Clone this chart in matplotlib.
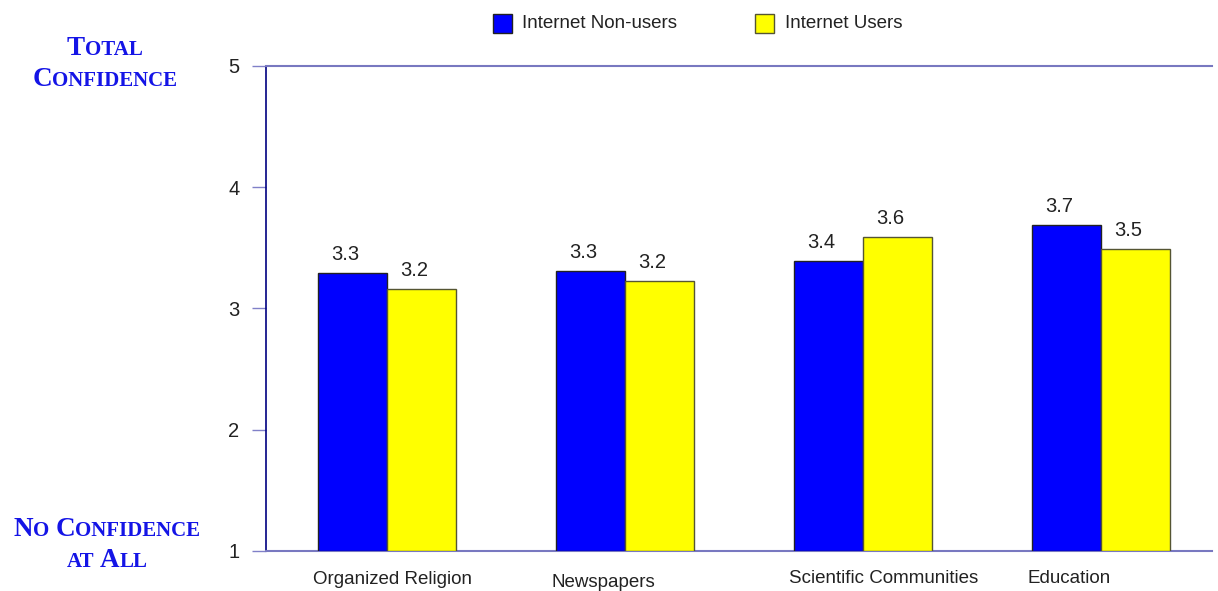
import matplotlib
matplotlib.use("Agg")
import matplotlib.pyplot as plt
from matplotlib.patches import Rectangle

# ---- data ----
categories = ["Organized Religion", "Newspapers", "Scientific Communities", "Education"]
non_users = [3.29, 3.31, 3.39, 3.69]
users = [3.16, 3.23, 3.59, 3.49]
non_users_labels = ["3.3", "3.3", "3.4", "3.7"]
users_labels = ["3.2", "3.2", "3.6", "3.5"]
series_names = ["Internet Non-users", "Internet Users"]
y_ticks = [1, 2, 3, 4, 5]

SANS = ["Liberation Sans", "DejaVu Sans"]
SERIF = ["Liberation Serif", "DejaVu Serif"]
BLUE = "#0000FF"
YELLOW = "#FFFF00"
TXTBLUE = "#1414E6"
FS = 13.5
FSN = 14.5

W, H = 1218, 591
fig = plt.figure(figsize=(W / 100, H / 100), dpi=100)
ax = fig.add_axes([266 / W, 1 - 551 / H, (1212 - 266) / W, (551 - 66) / H])

bw = 0.29
xs = list(range(len(categories)))
ax.bar([x - bw / 2 for x in xs], [v - 1 for v in non_users], bw, bottom=1,
       color=BLUE, edgecolor="#222222", linewidth=1.0, zorder=3)
ax.bar([x + bw / 2 for x in xs], [v - 1 for v in users], bw, bottom=1,
       color=YELLOW, edgecolor="#555533", linewidth=1.0, zorder=3)

for x, v, lab in zip(xs, non_users, non_users_labels):
    ax.annotate(lab, (x - bw / 2 - 0.03, v), xytext=(0, 9), textcoords="offset pixels",
                ha="center", va="bottom", fontsize=FSN, family=SANS, color="#222222")
for x, v, lab in zip(xs, users, users_labels):
    ax.annotate(lab, (x + bw / 2 - 0.03, v), xytext=(0, 9), textcoords="offset pixels",
                ha="center", va="bottom", fontsize=FSN, family=SANS, color="#222222")

ax.set_xlim(-0.508, 3.466)
ax.set_ylim(1, 5)
ax.set_yticks(y_ticks)
ax.set_yticklabels([str(t) for t in y_ticks], family=SANS, fontsize=FSN, color="#222222")
ax.tick_params(axis="y", length=10, width=1, color="#8080C8", pad=9)
ax.set_xticks([])

ax.spines["right"].set_visible(False)
ax.spines["left"].set_color("#000080")
ax.spines["left"].set_linewidth(1.2)
ax.spines["bottom"].set_color("#7878C0")
ax.spines["bottom"].set_linewidth(1.5)
ax.spines["top"].set_color("#7878C0")
ax.spines["top"].set_linewidth(1.5)

# category labels (left aligned near blue bar left edge)
cat_dy = [-33, -36, -32, -32]
for x, c, dy in zip(xs, categories, cat_dy):
    ax.annotate(c, (x - bw - 0.02, 1), xytext=(0, dy), textcoords="offset pixels",
                ha="left", va="baseline", fontsize=FS, family=SANS, color="#222222")

# legend
def fx(px):
    return px / W

def fy(py):
    return 1 - py / H

fig.patches.append(Rectangle((fx(493), fy(33)), 19 / W, 19 / H, transform=fig.transFigure,
                             facecolor=BLUE, edgecolor="#222222", linewidth=1))
fig.text(fx(522), fy(24), series_names[0], ha="left", va="center", fontsize=FS,
         family=SANS, color="#222222")
fig.patches.append(Rectangle((fx(755), fy(33)), 19 / W, 19 / H, transform=fig.transFigure,
                             facecolor=YELLOW, edgecolor="#555533", linewidth=1))
fig.text(fx(785), fy(24), series_names[1], ha="left", va="center", fontsize=FS,
         family=SANS, color="#222222")

# small caps side titles
renderer = fig.canvas.get_renderer()

def smallcaps_line(words, xc, ybase_px, big=19.5, small=15):
    # words: list of (word, first_letter_big)
    pieces = []
    for i, (w, cap) in enumerate(words):
        if i > 0:
            pieces.append((" ", small))
        if cap:
            pieces.append((w[0].upper(), big))
            if len(w) > 1:
                pieces.append((w[1:].upper(), small))
        else:
            pieces.append((w.upper(), small))
    arts = []
    widths = []
    for txt, sz in pieces:
        if txt == " ":
            arts.append(None)
            widths.append(sz * 0.4)
            continue
        t = fig.text(0, fy(ybase_px), txt, fontsize=sz, family=SERIF, weight="bold",
                     color=TXTBLUE, ha="left", va="baseline")
        bb = t.get_window_extent(renderer)
        arts.append(t)
        widths.append(bb.width)
    total = sum(widths)
    x = xc - total / 2
    for a, wdt in zip(arts, widths):
        if a is not None:
            a.set_x(fx(x))
        x += wdt

smallcaps_line([("Total", True)], 105, 55)
smallcaps_line([("Confidence", True)], 105, 86)
smallcaps_line([("No", True), ("Confidence", True)], 107, 536)
smallcaps_line([("at", False), ("All", True)], 107, 567)

fig.savefig("out.png", dpi=100)
